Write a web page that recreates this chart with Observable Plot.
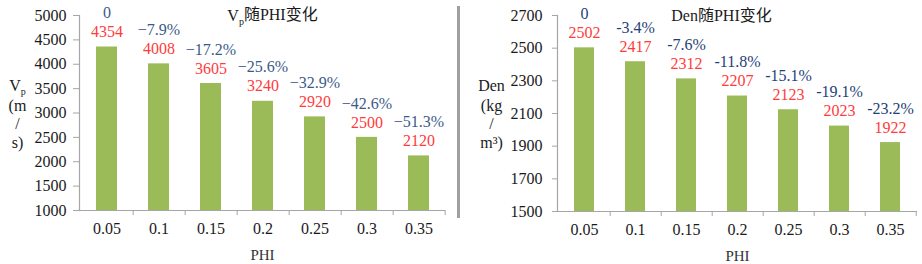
<!DOCTYPE html>
<html>
<head>
<meta charset="utf-8">
<script src="https://cdn.jsdelivr.net/npm/d3@7"></script>
<script src="https://cdn.jsdelivr.net/npm/@observablehq/plot@0.6"></script>
<style>
  html, body { margin: 0; padding: 0; background: #fff; }
  #wrap { position: relative; width: 922px; height: 264px; overflow: hidden; }
  #left { position: absolute; left: 0; top: 0; }
  #right { position: absolute; left: 460px; top: 0; }
  #sep { position: absolute; left: 457px; top: 6px; width: 3px; height: 212px; background: #a0a0a0; }
  svg, svg text { font-family: "Liberation Serif", "Noto Sans CJK SC", serif !important; font-variant: normal !important; }
</style>
</head>
<body>
<div id="wrap">
  <div id="left"></div>
  <div id="sep"></div>
  <div id="right"></div>
</div>
<script>
// ---- data ----
const phi = ["0.05", "0.1", "0.15", "0.2", "0.25", "0.3", "0.35"];
const vpValues = [4354, 4008, 3605, 3240, 2920, 2500, 2120];
const vpChange = ["0", "−7.9%", "−17.2%", "−25.6%", "−32.9%", "−42.6%", "−51.3%"];
const vpTicks = [1000, 1500, 2000, 2500, 3000, 3500, 4000, 4500, 5000];
const denValues = [2502, 2417, 2312, 2207, 2123, 2023, 1922];
const denChange = ["0", "-3.4%", "-7.6%", "-11.8%", "-15.1%", "-19.1%", "-23.2%"];
const denTicks = [1500, 1700, 1900, 2100, 2300, 2500, 2700];

const GREEN = "#9bbb59";
const RED = "#ff3b3b";
const AXIS = "#a6a6a6";
const FONT = '"Liberation Serif", "Noto Sans CJK SC", serif';

function makeChart(o) {
  const data = phi.map((p, i) => ({phi: p, value: o.values[i], change: o.changes[i]}));
  const halfStep = (o.width - o.ml - o.mr) / phi.length / 2;
  const base = o.ticks[0];
  const T = {fontFamily: FONT, fontSize: 16};
  const chart = Plot.plot({
    width: o.width,
    height: 264,
    marginLeft: o.ml,
    marginRight: o.mr,
    marginTop: 15,
    marginBottom: o.mb,
    style: {fontFamily: FONT, fontSize: "16px", color: "#1a1a1a", background: "white"},
    x: {domain: phi, paddingInner: 0.6, paddingOuter: 0.3, axis: null},
    y: {domain: [o.ticks[0], o.ticks[o.ticks.length - 1]], axis: null},
    marks: [
      Plot.barY(data, {x: "phi", y1: () => base, y2: "value", fill: GREEN}),
      Plot.ruleY([base], {stroke: AXIS, strokeWidth: 1.2}),
      Plot.frame({anchor: "left", stroke: AXIS, strokeWidth: 1.2}),
      Plot.axisY({ticks: o.ticks, tickSize: o.tickSizeY, tickPadding: o.padY, stroke: AXIS, fill: "#1a1a1a", label: null, tickFormat: d => String(d), ...T}),
      Plot.axisX({tickSize: 0, tickPadding: 12, fill: "#1a1a1a", label: null, ...T}),
      Plot.axisX({tickSize: 5, dx: halfStep, tickFormat: () => "", stroke: AXIS, label: null}),
      Plot.text(data, {x: "phi", y: "value", text: d => String(d.value), dy: -15, lineAnchor: "middle", fill: RED, ...T}),
      Plot.text(data, {x: "phi", y: "value", text: "change", dy: -34, lineAnchor: "middle", fill: o.blue, ...T}),
      Plot.text([o.title], {frameAnchor: "top", dx: o.titleDx, dy: 0, lineAnchor: "middle", fill: "#1a1a1a", ...T}),
      Plot.text(["PHI"], {frameAnchor: "bottom", dy: 45, lineAnchor: "middle", fill: "#333", fontFamily: FONT, fontSize: 15}),
      Plot.text([o.ylab1], {frameAnchor: "top-left", textAnchor: "middle", dx: o.ylabDx, dy: 70, lineAnchor: "middle", fill: "#1a1a1a", ...T}),
      Plot.text([o.ylab2], {frameAnchor: "top-left", textAnchor: "middle", dx: o.ylabDx, dy: 108, lineAnchor: "middle", lineHeight: 1.15, fill: "#1a1a1a", ...T})
    ]
  });
  return chart;
}

const left = makeChart({
  values: vpValues, changes: vpChange, ticks: vpTicks,
  width: 460, ml: 79, mr: 15, mb: 54, tickSizeY: 6, padY: 7,
  blue: "#3b5a8a", title: "Vp随PHI变化", titleDx: 10,
  ylab1: "Vp", ylab2: "(m\n/\ns)", ylabDx: -62
});
const right = makeChart({
  values: denValues, changes: denChange, ticks: denTicks,
  width: 462, ml: 97, mr: 5, mb: 53, tickSizeY: 5, padY: 10,
  blue: "#1f3f78", title: "Den随PHI变化", titleDx: -16,
  ylab1: "Den", ylab2: "(kg\n/\nm³)", ylabDx: -66
});
document.getElementById("left").appendChild(left);
document.getElementById("right").appendChild(right);

// subscript "p" in V_p labels
d3.select(left).selectAll("text").each(function () {
  const t = d3.select(this);
  const s = this.textContent;
  if (s === "Vp随PHI变化" || s === "Vp") {
    const rest = s.slice(2);
    t.text(null);
    t.append("tspan").text("V");
    t.append("tspan").attr("font-size", 10).attr("dy", "0.45em").text("p");
    if (rest) t.append("tspan").attr("dy", "-0.3em").text(rest);
  }
});
</script>
</body>
</html>
